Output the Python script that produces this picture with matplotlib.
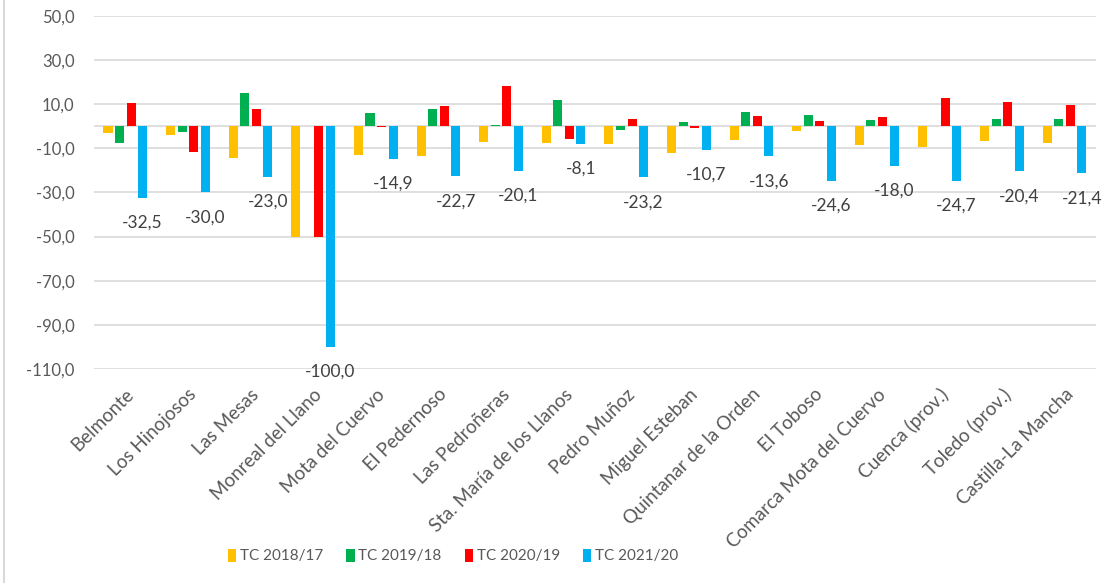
import numpy as np
import matplotlib.pyplot as plt
from matplotlib.lines import Line2D

categories = ["Belmonte", "Los Hinojosos", "Las Mesas", "Monreal del Llano",
              "Mota del Cuervo", "El Pedernoso", "Las Pedroñeras",
              "Sta. María de los Llanos", "Pedro Muñoz", "Miguel Esteban",
              "Quintanar de la Orden", "El Toboso", "Comarca Mota del Cuervo",
              "Cuenca (prov.)", "Toledo (prov.)", "Castilla-La Mancha"]

tc_2018_17 = [-3.0, -3.9, -14.2, -50.0, -12.9, -13.3, -7.0, -7.6, -8.0, -12.1,
              -6.2, -2.0, -8.5, -9.2, -6.8, -7.4]
tc_2019_18 = [-7.4, -2.7, 15.2, 0.0, 5.8, 8.0, 0.5, 12.1, -1.9, 1.8,
              6.5, 5.3, 3.0, 0.0, 3.3, 3.3]
tc_2020_19 = [10.6, -11.6, 8.0, -50.0, -0.5, 9.0, 18.0, -6.0, 3.2, -0.8,
              4.8, 2.4, 4.2, 13.0, 10.8, 9.6]
tc_2021_20 = [-32.5, -30.0, -23.0, -100.0, -14.9, -22.7, -20.1, -8.1, -23.2, -10.7,
              -13.6, -24.6, -18.0, -24.7, -20.4, -21.4]

series = [("TC 2018/17", tc_2018_17, "#FFC000"),
          ("TC 2019/18", tc_2019_18, "#00B050"),
          ("TC 2020/19", tc_2020_19, "#FF0000"),
          ("TC 2021/20", tc_2021_20, "#00B0F0")]

yticks = np.arange(-110, 51, 20)

plt.rcParams["font.family"] = ["Lato", "DejaVu Sans"]
txt_color = "#595959"
grid_color = "#D9D9D9"

fig = plt.figure(figsize=(11.16, 5.83), dpi=100)
ax = fig.add_axes([0.0842, 0.367, 0.8978, 0.6058])

x = np.arange(len(categories))
step = 0.184
width = 0.144
for i, (name, vals, color) in enumerate(series):
    ax.bar(x + (i - 1.5) * step, vals, width, color=color, label=name, zorder=3)

# data labels only for the last series
for xi, v in zip(x + 1.5 * step, tc_2021_20):
    ax.annotate(f"{v:.1f}".replace(".", ","), (xi, v), xytext=(0, -18),
                textcoords="offset points", ha="center", va="center",
                fontsize=12.5, color="#404040", zorder=4)

ax.set_ylim(-110, 50)
ax.set_xlim(-0.5, len(categories) - 0.5)
ax.set_yticks(yticks)
ax.set_yticklabels([f"{t:.1f}".replace(".", ",") for t in yticks],
                   fontsize=12, color=txt_color)
ax.yaxis.grid(True, color=grid_color, linewidth=1.2, zorder=0)
ax.axhline(0, color=grid_color, linewidth=1.2, zorder=1)

ax.set_xticks(x)
ax.set_xticklabels(categories, rotation=45, ha="right", rotation_mode="anchor",
                   fontsize=13.5, color=txt_color)
ax.tick_params(axis="both", length=0)
ax.tick_params(axis="x", pad=12)
ax.tick_params(axis="y", pad=14)
for s in ax.spines.values():
    s.set_visible(False)

fig.legend(loc="center", bbox_to_anchor=(0.406, 0.046), ncol=4, frameon=False,
           fontsize=11, labelcolor=txt_color, handlelength=0.55, handleheight=0.9,
           handletextpad=0.25, columnspacing=1.5)

# chart area border on the left
fig.add_artist(Line2D([0.0035, 0.0035], [0, 1], color=grid_color, linewidth=1.5))

fig.savefig("out.png", dpi=100)
